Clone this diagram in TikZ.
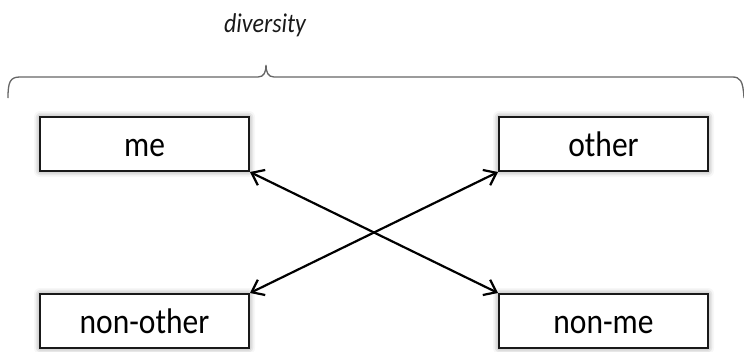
\documentclass[tikz,border=0pt]{standalone}
\usepackage{fontspec}
\setmainfont{Carlito}
\usetikzlibrary{arrows.meta,shadows.blur}
\newcommand{\tallt}[1]{\scalebox{1}[1.13]{#1}}
\tikzset{
  box/.style={draw=black!90, line width=2pt, fill=white, minimum width=209pt, minimum height=54pt,
    inner sep=0pt, text height=30pt, text depth=6pt, font=\fontsize{31.5}{36}\selectfont, text=black,
    blur shadow={shadow xshift=0pt, shadow yshift=0pt, shadow blur radius=6pt, shadow opacity=50}},
  link/.style={line width=2.2pt, draw=black, {Straight Barb[length=11pt,width=17pt,line width=2.2pt]}-{Straight Barb[length=11pt,width=17pt,line width=2.2pt]}},
  brace/.style={line width=1.3pt, draw=black!60}
}
\begin{document}
\begin{tikzpicture}[x=1pt,y=-1pt]
\useasboundingbox (0,0) rectangle (744,351);
\node[box] (me) at (144.5,144) {\tallt{me}};
\node[box] (other) at (603.5,144) {\tallt{other}};
\node[box] (nonother) at (144.5,321) {\tallt{non-other}};
\node[box] (nonme) at (603.5,321) {\tallt{non-me}};
\node[font=\fontsize{24}{28}\selectfont\itshape, text=black!90, anchor=base, inner sep=0pt] (div) at (265,32) {\tallt{diversity}};
\coordinate (bl) at (8,98);
\coordinate (tip) at (266,65);
\coordinate (br) at (744,98);
\draw[brace] (bl) .. controls (8,82) and (10,77) .. (20,77) -- (258,77) .. controls (264,77) and (266,72) .. (tip)
  .. controls (266,72) and (268,77) .. (274,77) -- (732,77) .. controls (740,77) and (743,80) .. (br);
\draw[link] (me.south east) -- (nonme.north west);
\draw[link] (other.south west) -- (nonother.north east);
\end{tikzpicture}
\end{document}
